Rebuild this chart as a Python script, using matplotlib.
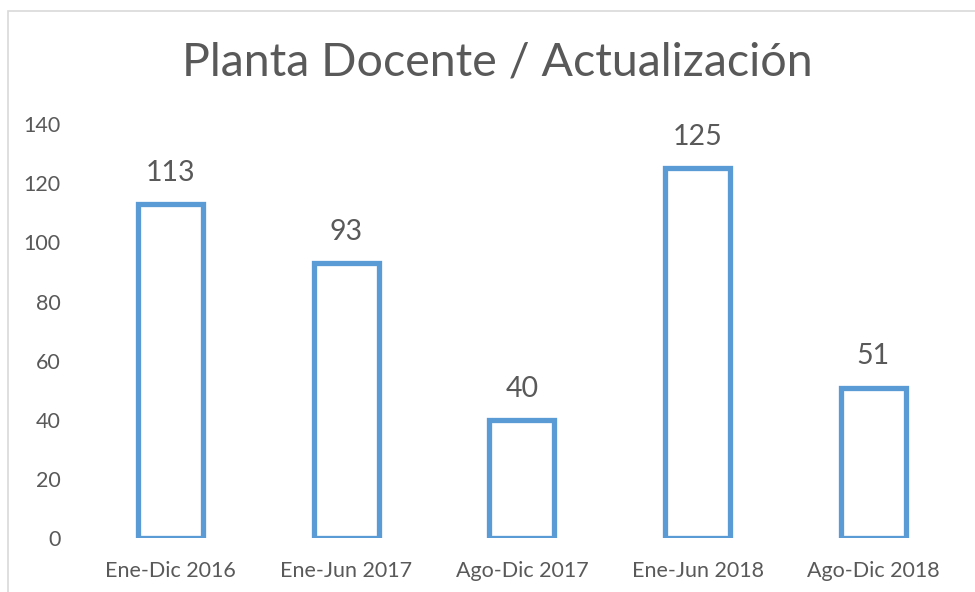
import matplotlib.pyplot as plt
from matplotlib.patches import Rectangle

# =====================================================
# Data
# =====================================================

periodos = ["Ene-Dic 2016", "Ene-Jun 2017", "Ago-Dic 2017", "Ene-Jun 2018", "Ago-Dic 2018"]
docentes = [113, 93, 40, 125, 51]
titulo = "Planta Docente / Actualización"

plt.rcParams["font.family"] = ["Lato", "DejaVu Sans"]

GRIS = "#595959"
AZUL = "#5B9BD5"

# =====================================================
# Figure
# =====================================================

fig = plt.figure(figsize=(9.75, 5.92), dpi=100)
ax = fig.add_axes([0.0851, 0.0904, 0.9005, 0.7001])

x = range(len(periodos))
bars = ax.bar(x, docentes, width=0.37, facecolor="white",
              edgecolor=AZUL, linewidth=3.8)

for xi, v in zip(x, docentes):
    ax.annotate(str(v), (xi, v), xytext=(0, 13), textcoords="offset points",
                ha="center", va="bottom", fontsize=20.5, color=GRIS)

ax.set_xlim(-0.5, len(periodos) - 0.5)
ax.set_ylim(0, 140)
ax.set_yticks(range(0, 141, 20))
ax.set_xticks(list(x))
ax.set_xticklabels(periodos)

for s in ax.spines.values():
    s.set_visible(False)

ax.tick_params(axis="y", length=0, pad=16, labelsize=15.5, labelcolor=GRIS)
ax.tick_params(axis="x", length=0, pad=16, labelsize=15.5, labelcolor=GRIS)

fig.text(497 / 975, 1 - 63 / 592, titulo, ha="center", va="center",
         fontsize=33.5, color=GRIS)

# chart border (only top and left visible)
fig.add_artist(Rectangle((8 / 975, -0.1), 1.2, 1 - 11 / 592 + 0.1,
                         transform=fig.transFigure, fill=False,
                         edgecolor="#D9D9D9", linewidth=1.2))

plt.savefig("out.png", dpi=100)
